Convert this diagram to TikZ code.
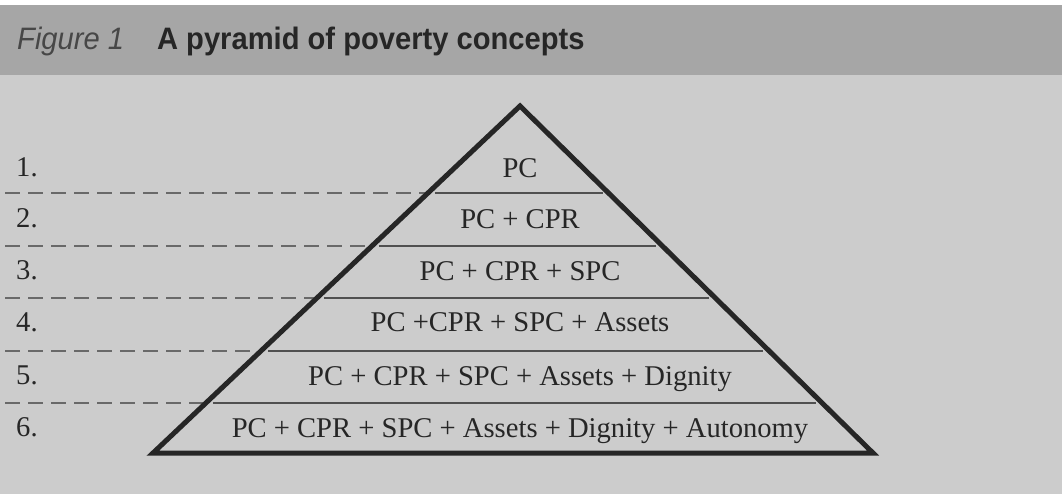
\documentclass[tikz,border=0pt]{standalone}
\usepackage{fontspec}
\setmainfont{Liberation Serif}
\newfontfamily\titlefont[FakeStretch=0.94]{Liberation Sans}
\usetikzlibrary{calc}
\definecolor{bodybg}{RGB}{204,204,204}
\definecolor{barbg}{RGB}{166,166,166}
\definecolor{ink}{RGB}{38,38,38}
\definecolor{dashgray}{RGB}{105,105,105}
\definecolor{rulegray}{RGB}{80,80,80}
\tikzset{
  rowtext/.style={anchor=base, inner sep=0pt, text=ink, font=\fontsize{28.6}{28.6}\selectfont},
  numtext/.style={anchor=base west, inner sep=0pt, text=ink, font=\fontsize{28.6}{28.6}\selectfont},
  levelrule/.style={draw=rulegray, line width=1.4pt},
  guide/.style={draw=dashgray, line width=1.4pt, dash pattern=on 15pt off 8pt},
  outline/.style={draw=ink, line width=5pt, line join=miter}
}
\begin{document}
\begin{tikzpicture}[x=1pt,y=-1pt]
\useasboundingbox (0,0) rectangle (1063,494);
\fill[white] (0,0) rectangle (1063,494);
\fill[bodybg] (0,5) rectangle (1062,494);
\fill[barbg] (0,5) rectangle (1062,75);
\node[anchor=base west, inner sep=0pt, text=ink, font=\titlefont\fontsize{31}{31}\selectfont] (title) at (17,50)
  {{\itshape\color{ink!85}Figure 1}\hspace{33pt}\textbf{A pyramid of poverty concepts}};

\coordinate (apex) at (520,106);
\coordinate (bl) at (153,453);
\coordinate (br) at (873,453);

% level lines
\foreach \t [count=\i] in {0.2507,0.4035,0.5533,0.7061,0.8559}{
  \coordinate (L\i) at ($(apex)!\t!(bl)$);
  \coordinate (R\i) at ($(apex)!\t!(br)$);
  \coordinate (S\i) at (5,0 |- L\i);
  \draw[guide] (S\i) -- (L\i);
  \draw[levelrule] ($(L\i)+(7,0)$) -- ($(R\i)+(-6,0)$);
}

\draw[outline] (apex) -- (br) -- (bl) -- cycle;

% row texts
\node[rowtext] (r1) at (520,178) {PC};
\node[rowtext] (r2) at (520,229) {PC + CPR};
\node[rowtext] (r3) at (520,281) {PC + CPR + SPC};
\node[rowtext] (r4) at (520,332) {PC +CPR + SPC + Assets};
\node[rowtext] (r5) at (520,385) {PC + CPR + SPC + Assets + Dignity};
\node[rowtext] (r6) at (520,437) {PC + CPR + SPC + Assets + Dignity + Autonomy};

% numbers
\node[numtext] (n1) at (16,177) {1.};
\node[numtext] (n2) at (16,228) {2.};
\node[numtext] (n3) at (16,280) {3.};
\node[numtext] (n4) at (16,331) {4.};
\node[numtext] (n5) at (16,384) {5.};
\node[numtext] (n6) at (16,436) {6.};
\end{tikzpicture}
\end{document}
